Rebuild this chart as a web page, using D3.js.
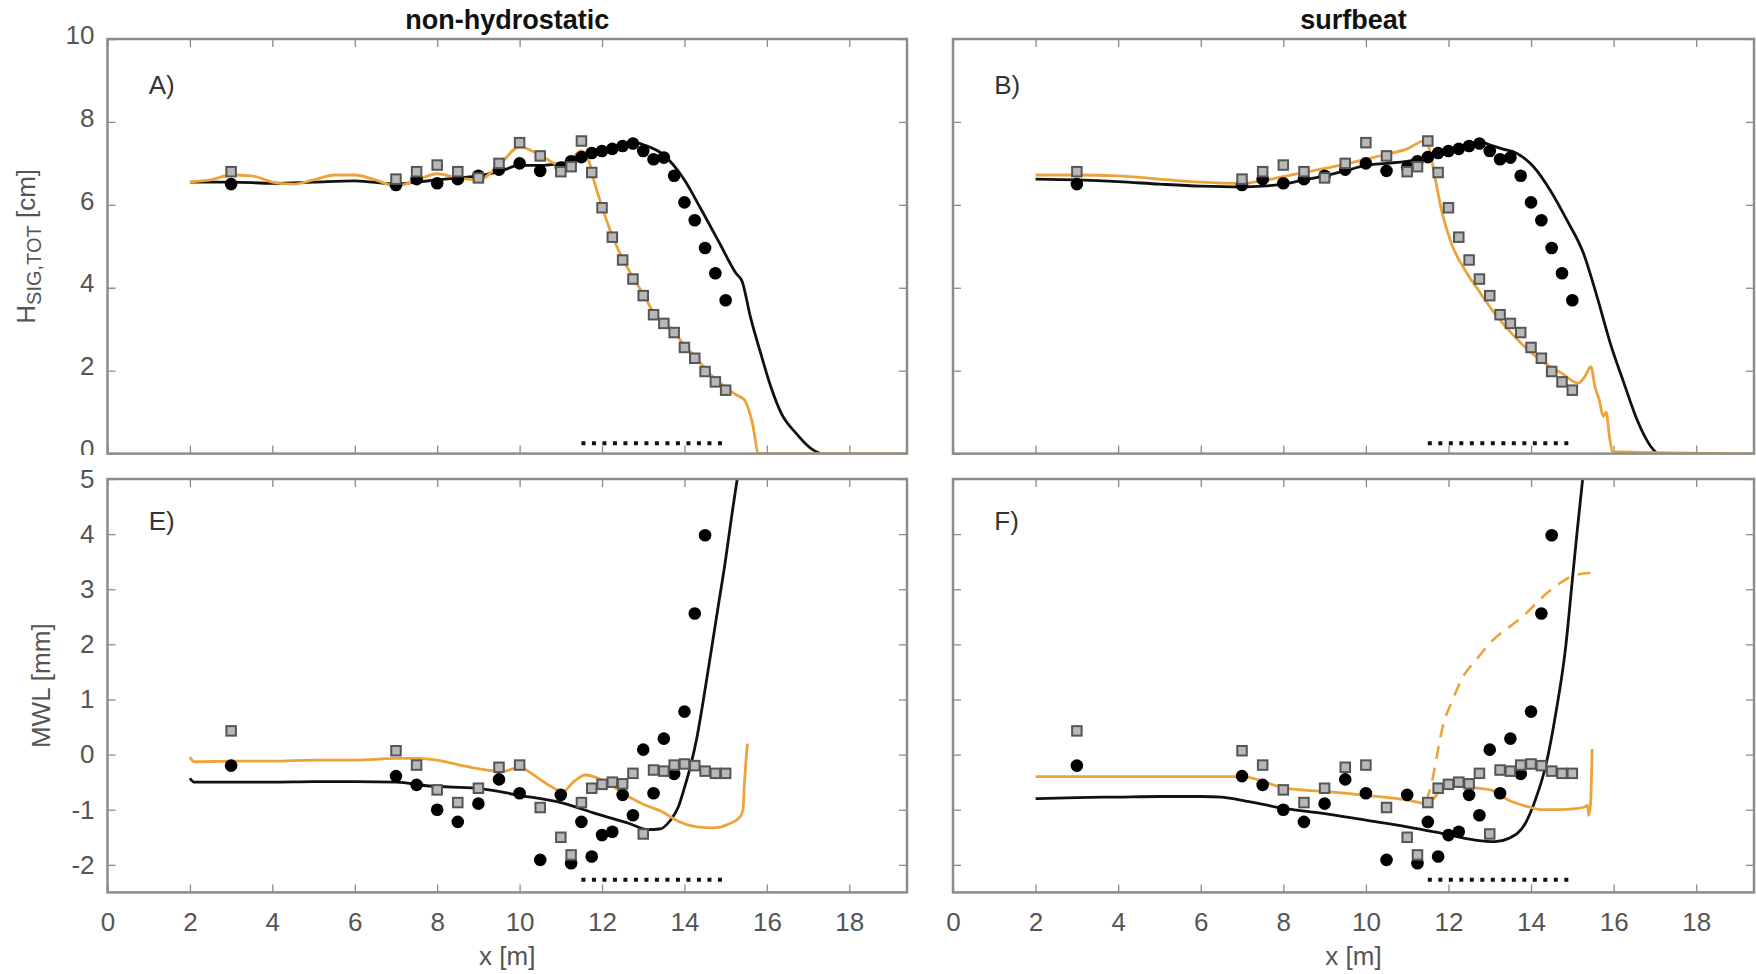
<!DOCTYPE html>
<html><head><meta charset="utf-8">
<script src="https://cdn.jsdelivr.net/npm/d3@7"></script>
<style>
body{margin:0;background:#fff;}
svg{display:block;font-family:"Liberation Sans",Arial,Helvetica,sans-serif;}
</style></head><body>
<svg id="chart" width="1756" height="974"></svg>
<script>
// ---------- axes / labels ----------
const xTicks = [0, 2, 4, 6, 8, 10, 12, 14, 16, 18];
const hsTicks = [0, 2, 4, 6, 8, 10];
const mwlTicks = [-2, -1, 0, 1, 2, 3, 4, 5];
const xDomain = [0, 19.4];
const hsDomain = [0, 10];
const mwlDomain = [-2.5, 5];
const columnTitles = ["non-hydrostatic", "surfbeat"];
const panelLetters = ["A)", "B)", "E)", "F)"];

// ---------- measured data (same in both columns) ----------
const hsCircX = [3, 7, 7.5, 8, 8.5, 9, 9.5, 10, 10.5, 11, 11.25, 11.5, 11.75, 12, 12.25, 12.5, 12.75, 13, 13.25, 13.5, 13.75, 14, 14.25, 14.5, 14.75, 15];
const hsCircY = [6.5, 6.48, 6.62, 6.52, 6.62, 6.7, 6.85, 7.0, 6.82, 6.9, 7.05, 7.15, 7.25, 7.3, 7.35, 7.42, 7.48, 7.3, 7.1, 7.14, 6.7, 6.06, 5.63, 4.96, 4.35, 3.7];
const hsSqX = [3, 7, 7.5, 8, 8.5, 9, 9.5, 10, 10.5, 11, 11.25, 11.5, 11.75, 12, 12.25, 12.5, 12.75, 13, 13.25, 13.5, 13.75, 14, 14.25, 14.5, 14.75, 15];
const hsSqY = [6.8, 6.62, 6.8, 6.96, 6.8, 6.65, 7.0, 7.5, 7.18, 6.8, 6.92, 7.54, 6.78, 5.93, 5.22, 4.67, 4.21, 3.81, 3.35, 3.14, 2.92, 2.56, 2.3, 1.98, 1.73, 1.53];

const mwCircX = [3, 7, 7.5, 8, 8.5, 9, 9.5, 10, 10.5, 11, 11.25, 11.5, 11.75, 12, 12.25, 12.5, 12.75, 13, 13.25, 13.5, 13.75, 14, 14.25, 14.5];
const mwCircY = [-0.2, -0.39, -0.55, -1.0, -1.22, -0.89, -0.45, -0.7, -1.91, -0.73, -1.97, -1.22, -1.85, -1.46, -1.4, -0.73, -1.1, 0.09, -0.7, 0.29, -0.35, 0.78, 2.56, 3.98];
const mwSqX = [3, 7, 7.5, 8, 8.5, 9, 9.5, 10, 10.5, 11, 11.25, 11.5, 11.75, 12, 12.25, 12.5, 12.75, 13, 13.25, 13.5, 13.75, 14, 14.25, 14.5, 14.75, 15];
const mwSqY = [0.43, 0.07, -0.19, -0.64, -0.87, -0.61, -0.23, -0.19, -0.96, -1.5, -1.82, -0.87, -0.61, -0.54, -0.5, -0.53, -0.34, -1.44, -0.28, -0.3, -0.19, -0.17, -0.2, -0.3, -0.34, -0.34];

// ---------- model results ----------
// A) non-hydrostatic, Hsig
const aBlkX = [2, 3, 4, 5, 6, 7, 7.5, 8, 8.5, 9, 9.5, 10, 10.5, 11, 11.5, 12, 12.5, 12.75, 13, 13.5, 14, 14.4, 14.85, 15.25, 15.4, 15.6, 15.85, 16.1, 16.35, 16.7, 17.1, 17.3];
const aBlkY = [6.55, 6.55, 6.52, 6.55, 6.58, 6.5, 6.55, 6.6, 6.65, 6.7, 6.8, 6.95, 6.95, 7.0, 7.1, 7.25, 7.45, 7.52, 7.45, 7.2, 6.6, 5.9, 5.08, 4.35, 4.15, 3.3, 2.42, 1.6, 0.97, 0.5, 0.1, 0];
const aOrgX = [2, 2.5, 3, 3.5, 4, 4.5, 5, 5.5, 6, 6.5, 7, 7.5, 8, 8.5, 9, 9.5, 10, 10.5, 11, 11.25, 11.5, 11.7, 11.8, 12, 12.25, 12.5, 12.75, 13, 13.25, 13.5, 13.75, 14, 14.25, 14.5, 14.75, 15, 15.25, 15.45, 15.65, 15.8, 19.4];
const aOrgY = [6.55, 6.6, 6.72, 6.7, 6.55, 6.5, 6.6, 6.72, 6.72, 6.6, 6.45, 6.6, 6.75, 6.65, 6.6, 6.95, 7.4, 7.2, 6.95, 7.1, 7.3, 7.0, 6.6, 5.95, 5.25, 4.7, 4.25, 3.85, 3.4, 3.15, 2.95, 2.6, 2.35, 2.05, 1.8, 1.6, 1.42, 1.3, 0.73, 0.0, 0.0];
// B) surfbeat, Hsig
const bBlkX = [2, 3, 4, 5, 6, 7, 7.5, 8, 8.5, 9, 9.5, 10, 10.5, 11, 11.5, 12, 12.5, 12.75, 13, 13.3, 13.66, 14.06, 14.46, 14.87, 15.27, 15.6, 15.92, 16.25, 16.57, 16.9, 17.05];
const bBlkY = [6.62, 6.6, 6.56, 6.5, 6.45, 6.43, 6.45, 6.5, 6.6, 6.7, 6.82, 6.95, 7.0, 7.05, 7.15, 7.3, 7.45, 7.52, 7.45, 7.35, 7.24, 6.92, 6.36, 5.63, 4.83, 3.78, 2.66, 1.7, 0.81, 0.17, 0];
const bOrgX = [2, 3, 4, 5, 5.5, 6, 7, 7.5, 8, 8.5, 9, 9.5, 10, 10.5, 11, 11.43, 11.55, 11.67, 11.83, 12.07, 12.4, 12.72, 13.12, 13.53, 13.93, 14.33, 14.74, 15.14, 15.3, 15.45, 15.55, 15.65, 15.75, 15.82, 15.9, 15.97, 19.4];
const bOrgY = [6.72, 6.72, 6.7, 6.62, 6.58, 6.55, 6.52, 6.58, 6.68, 6.78, 6.88, 6.98, 7.1, 7.22, 7.35, 7.55, 7.3, 6.68, 5.88, 5.07, 4.43, 3.95, 3.38, 2.9, 2.5, 2.18, 1.94, 1.7, 1.85, 2.1, 1.6, 1.3, 0.9, 1.0, 0.4, 0.05, 0];
// E) non-hydrostatic, MWL
const eBlkX = [2, 2.1, 3, 4, 5, 6, 7, 7.8, 8.95, 10, 11.05, 11.85, 12.66, 13.1, 13.4, 13.65, 13.85, 14.0, 14.15, 14.3, 14.45, 14.6, 14.8, 15.0, 15.15, 15.28];
const eBlkY = [-0.43, -0.5, -0.5, -0.5, -0.49, -0.49, -0.5, -0.57, -0.61, -0.74, -0.88, -1.07, -1.25, -1.36, -1.35, -1.2, -0.95, -0.6, -0.2, 0.3, 0.95, 1.65, 2.6, 3.55, 4.35, 5.0];
const eOrgX = [2, 2.1, 3, 4, 5, 6, 7, 7.5, 8, 8.5, 9.2, 9.6, 10, 10.4, 10.7, 11.05, 11.3, 11.6, 12.0, 12.66, 13.0, 13.47, 13.8, 14.3, 14.7, 15.1, 15.35, 15.42, 15.45, 15.5, 15.53];
const eOrgY = [-0.04, -0.13, -0.12, -0.12, -0.1, -0.1, -0.07, -0.07, -0.1, -0.18, -0.28, -0.3, -0.23, -0.4, -0.55, -0.67, -0.5, -0.37, -0.46, -0.77, -0.9, -1.04, -1.19, -1.31, -1.33, -1.25, -1.13, -1.0, -0.6, -0.04, 0.2];
// F) surfbeat, MWL
const fBlkX = [2, 3, 4, 5, 6, 6.5, 7, 8.05, 9, 10, 11, 11.84, 12.65, 13.13, 13.46, 13.86, 14.1, 14.35, 14.6, 14.84, 15.0, 15.12, 15.25];
const fBlkY = [-0.8, -0.78, -0.77, -0.76, -0.76, -0.77, -0.83, -0.98, -1.07, -1.19, -1.31, -1.43, -1.55, -1.58, -1.52, -1.25, -0.83, -0.22, 0.75, 1.96, 3.17, 4.07, 5.0];
const fOrgX = [2, 3, 4, 5, 6, 7, 8.05, 9, 10, 11.05, 11.5, 11.84, 12.2, 12.6, 13.06, 13.46, 13.94, 14.27, 14.68, 15.08, 15.3, 15.37, 15.4, 15.44, 15.48];
const fOrgY = [-0.4, -0.4, -0.4, -0.4, -0.4, -0.4, -0.61, -0.67, -0.74, -0.83, -0.89, -0.62, -0.55, -0.6, -0.65, -0.83, -0.95, -1.0, -1.0, -0.98, -0.95, -0.92, -1.1, -0.9, 0.1];
const fDashX = [11.45, 11.6, 11.7, 11.86, 12.1, 12.35, 12.67, 13.08, 13.48, 13.88, 14.28, 14.68, 15.08, 15.48];
const fDashY = [-0.85, -0.5, -0.1, 0.5, 0.99, 1.41, 1.72, 2.08, 2.32, 2.56, 2.86, 3.1, 3.26, 3.3];

// dotted zone marker
const zoneX = [11.5, 14.95];
const zoneHs = 0.25;
const zoneMwl = -2.27;

// ---------- drawing ----------
const ORANGE = "#eda33a";
const BLACK = "#111111";
const FRAME = "#8c8c8c";
const TXT = "#555555";
const FS = 26;

const cols = [{l: 107.5, r: 907}, {l: 953, r: 1754}];
const rows = [{t: 39, b: 453.6}, {t: 479, b: 892.4}];

const svg = d3.select("#chart");
svg.append("rect").attr("width", 1756).attr("height", 974).attr("fill", "#fff");
const defs = svg.append("defs");

const panels = [
  {col: 0, row: 0, letter: panelLetters[0], letterY: 8.9, yDom: hsDomain, yT: hsTicks,
   lines: [{x: aBlkX, y: aBlkY, c: BLACK}, {x: aOrgX, y: aOrgY, c: ORANGE}],
   circ: [hsCircX, hsCircY], sq: [hsSqX, hsSqY], zoneY: zoneHs},
  {col: 1, row: 0, letter: panelLetters[1], letterY: 8.9, yDom: hsDomain, yT: hsTicks,
   lines: [{x: bBlkX, y: bBlkY, c: BLACK}, {x: bOrgX, y: bOrgY, c: ORANGE}],
   circ: [hsCircX, hsCircY], sq: [hsSqX, hsSqY], zoneY: zoneHs},
  {col: 0, row: 1, letter: panelLetters[2], letterY: 4.25, yDom: mwlDomain, yT: mwlTicks,
   lines: [{x: eBlkX, y: eBlkY, c: BLACK}, {x: eOrgX, y: eOrgY, c: ORANGE}],
   circ: [mwCircX, mwCircY], sq: [mwSqX, mwSqY], zoneY: zoneMwl},
  {col: 1, row: 1, letter: panelLetters[3], letterY: 4.25, yDom: mwlDomain, yT: mwlTicks,
   lines: [{x: fBlkX, y: fBlkY, c: BLACK}, {x: fOrgX, y: fOrgY, c: ORANGE},
           {x: fDashX, y: fDashY, c: ORANGE, dash: "13,9"}],
   circ: [mwCircX, mwCircY], sq: [mwSqX, mwSqY], zoneY: zoneMwl}
];

const fmt = d => String(d);

function styleAxis(g) {
  g.attr("font-size", null).attr("font-family", null);
  g.select(".domain").remove();
  g.selectAll(".tick line").attr("stroke", FRAME).attr("stroke-width", 1.3);
  g.selectAll(".tick text").attr("font-size", FS).attr("fill", TXT);
}

panels.forEach((p, i) => {
  const c = cols[p.col], r = rows[p.row];
  const x = d3.scaleLinear().domain(xDomain).range([c.l, c.r]);
  const y = d3.scaleLinear().domain(p.yDom).range([r.b, r.t]);
  const g = svg.append("g");

  const cid = "clip" + i;
  defs.append("clipPath").attr("id", cid).append("rect")
    .attr("x", c.l).attr("y", r.t).attr("width", c.r - c.l).attr("height", r.b - r.t);

  // axes (ticks inside)
  const bottom = d3.axisBottom(x).tickValues(xTicks).tickSizeInner(-8).tickSizeOuter(0).tickPadding(20)
    .tickFormat(p.row === 0 ? "" : fmt);
  g.append("g").attr("transform", `translate(0,${r.b})`).call(bottom).call(styleAxis);
  g.append("g").attr("transform", `translate(0,${r.t})`)
    .call(d3.axisTop(x).tickValues(xTicks).tickSizeInner(-8).tickSizeOuter(0).tickFormat(""))
    .call(styleAxis);
  const left = d3.axisLeft(y).tickValues(p.yT).tickSizeInner(-8).tickSizeOuter(0).tickPadding(13)
    .tickFormat(p.col === 1 ? "" : fmt);
  const lg = g.append("g").attr("transform", `translate(${c.l},0)`).call(left).call(styleAxis);
  if (p.col === 0 && p.row === 0) {
    // lower part of the "0" label is hidden by the panel below, as in the original
    const lcid = "lclip" + i;
    defs.append("clipPath").attr("id", lcid).append("rect")
      .attr("x", -c.l).attr("y", 0).attr("width", c.l + 20).attr("height", 455);
    lg.attr("clip-path", `url(#${lcid})`);
    lg.selectAll(".tick text").attr("dy", "0.16em");
  }
  g.append("g").attr("transform", `translate(${c.r},0)`)
    .call(d3.axisRight(y).tickValues(p.yT).tickSizeInner(-8).tickSizeOuter(0).tickFormat(""))
    .call(styleAxis);

  // model lines
  const lineGen = d3.line().x(d => x(d[0])).y(d => y(d[1])).curve(d3.curveMonotoneX);
  const lg2 = g.append("g").attr("clip-path", `url(#${cid})`);
  p.lines.forEach(L => {
    lg2.append("path").datum(d3.zip(L.x, L.y))
      .attr("d", lineGen).attr("fill", "none")
      .attr("stroke", L.c).attr("stroke-width", L.dash ? 2.6 : 2.8)
      .attr("stroke-dasharray", L.dash || null)
      .attr("stroke-linejoin", "round");
  });

  // dotted zone
  g.append("path").datum([[zoneX[0], p.zoneY], [zoneX[1], p.zoneY]])
    .attr("d", d3.line().x(d => x(d[0])).y(d => y(d[1])))
    .attr("stroke", BLACK).attr("stroke-width", 4).attr("stroke-dasharray", "4,6.5").attr("fill", "none");

  // measured: circles
  g.append("g").selectAll("circle").data(d3.zip(p.circ[0], p.circ[1])).join("circle")
    .attr("cx", d => x(d[0])).attr("cy", d => y(d[1])).attr("r", 6.3).attr("fill", "#000");
  // measured: squares
  const s = 9.5;
  g.append("g").selectAll("rect").data(d3.zip(p.sq[0], p.sq[1])).join("rect")
    .attr("x", d => x(d[0]) - s / 2).attr("y", d => y(d[1]) - s / 2)
    .attr("width", s).attr("height", s)
    .attr("fill", "#b8b8b8").attr("stroke", "#555").attr("stroke-width", 2);

  // frame
  g.append("rect").attr("x", c.l).attr("y", r.t).attr("width", c.r - c.l).attr("height", r.b - r.t)
    .attr("fill", "none").attr("stroke", FRAME).attr("stroke-width", 2.5);

  // panel letter
  g.append("text").attr("x", x(1.0)).attr("y", y(p.letterY)).attr("dy", "0.36em")
    .attr("font-size", FS).attr("fill", "#333").text(p.letter);

  // column title
  if (p.row === 0) {
    svg.append("text").attr("x", (c.l + c.r) / 2).attr("y", 29).attr("text-anchor", "middle")
      .attr("font-size", 27).attr("font-weight", "bold").attr("fill", "#111").text(columnTitles[p.col]);
  }
  // x label
  if (p.row === 1) {
    svg.append("text").attr("x", (c.l + c.r) / 2).attr("y", 965).attr("text-anchor", "middle")
      .attr("font-size", FS).attr("fill", TXT).text("x [m]");
  }
});

// y labels
const yl1 = svg.append("text").attr("text-anchor", "middle").attr("font-size", FS).attr("fill", TXT)
  .attr("transform", `translate(35,${(rows[0].t + rows[0].b) / 2}) rotate(-90)`);
yl1.append("tspan").text("H");
yl1.append("tspan").attr("font-size", 20).attr("dy", 6).text("SIG,TOT");
yl1.append("tspan").attr("dy", -6).text(" [cm]");

svg.append("text").attr("text-anchor", "middle").attr("font-size", FS).attr("fill", TXT)
  .attr("transform", `translate(50,${(rows[1].t + rows[1].b) / 2}) rotate(-90)`)
  .text("MWL [mm]");
</script></body></html>
